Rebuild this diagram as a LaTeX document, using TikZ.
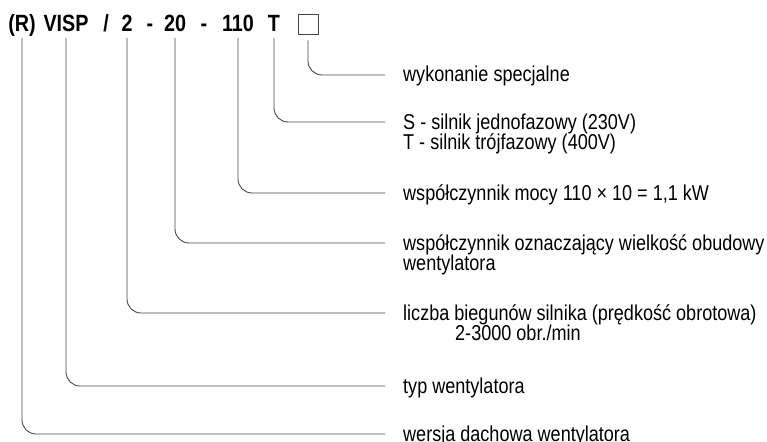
\documentclass[tikz,border=0pt]{standalone}
\usepackage{fontspec}
\setmainfont[FakeStretch=0.84]{Liberation Sans}
\usetikzlibrary{positioning}
\definecolor{leadgray}{RGB}{70,70,70}

\begin{document}
\begin{tikzpicture}[x=1pt, y=-1pt,
  code/.style={anchor=base, inner sep=0pt, text depth=0pt, font=\fontsize{23.5}{28}\selectfont\bfseries},
  lbl/.style={anchor=west, inner sep=0pt, text height=14pt, text depth=0pt, font=\fontsize{21.5}{26}\selectfont},
  lead/.style={draw=leadgray, line width=0.9pt, rounded corners=14pt, shorten <=6pt, shorten >=18pt}
]
\useasboundingbox (0,0) rectangle (767,441);

% type code
\node[code] (r) at (22,32) {(R)};
\node[code] (visp) at (66,32) {VISP};
\node[code] (slash) at (106,32) {/};
\node[code] (poles) at (127,32) {2};
\node[code] (dash1) at (150,32) {-};
\node[code] (size) at (175,32) {20};
\node[code] (dash2) at (204,32) {-};
\node[code] (power) at (238,32) {110};
\node[code] (phase) at (274,32) {T};
\node[draw=leadgray, line width=0.9pt, minimum size=20pt, inner sep=0pt] (box) at (308,24) {};

% descriptions
\node[lbl] (special) at (403,75) {wykonanie specjalne};
\node[lbl] (phase1) at (403,122) {S - silnik jednofazowy (230V)};
\node[lbl, anchor=north west] (phase2) at ([yshift=-6pt]phase1.south west) {T - silnik trójfazowy (400V)};
\node[lbl] (powerlbl) at (403,193) {współczynnik mocy 110 × 10 = 1,1 kW};
\node[lbl] (size1) at (403,243) {współczynnik oznaczający wielkość obudowy};
\node[lbl, anchor=north west] (size2) at ([yshift=-6pt]size1.south west) {wentylatora};
\node[lbl] (poles1) at (403,313) {liczba biegunów silnika (prędkość obrotowa)};
\node[lbl, anchor=north west] (poles2) at ([xshift=52pt,yshift=-6pt]poles1.south west) {2-3000 obr./min};
\node[lbl] (type) at (403,386) {typ wentylatora};
\node[lbl] (roof) at (403,434) {wersja dachowa wentylatora};

% leaders
\draw[lead] (box.south) |- (special.west);
\draw[lead] (phase.south) |- (phase1.west);
\draw[lead] (power.south) |- (powerlbl.west);
\draw[lead] (size.south) |- (size1.west);
\draw[lead] (poles.south) |- (poles1.west);
\draw[lead] (visp.south) |- (type.west);
\draw[lead] (r.south) |- (roof.west);
\end{tikzpicture}
\end{document}
